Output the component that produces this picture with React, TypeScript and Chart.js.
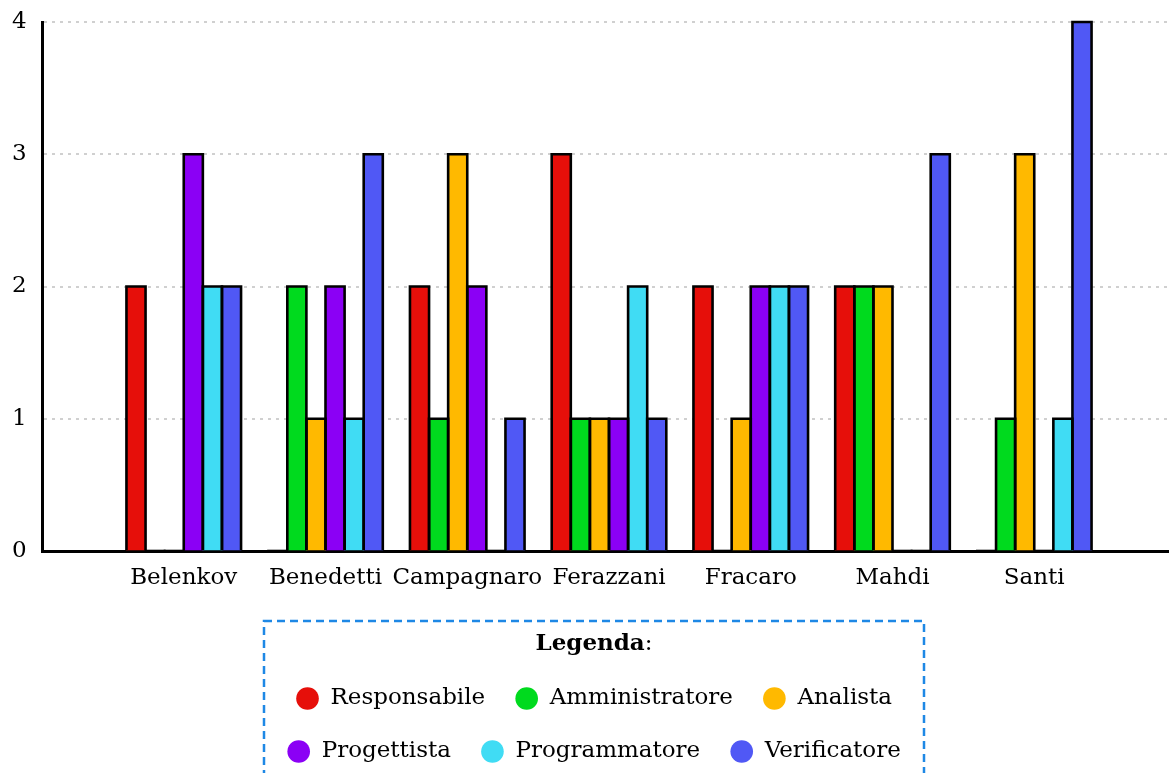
import React, { useEffect, useRef } from "react";
import { Chart, registerables } from "chart.js";

Chart.register(...registerables);

const categories = ["Belenkov", "Benedetti", "Campagnaro", "Ferazzani", "Fracaro", "Mahdi", "Santi"];
const seriesNames = ["Responsabile", "Amministratore", "Analista", "Progettista", "Programmatore", "Verificatore"];
const seriesColors = ["#e60f0a", "#00da1e", "#ffb900", "#8b00f5", "#40dcf4", "#5058f5"];

const responsabile = [2, 0, 2, 3, 2, 2, 0];
const amministratore = [0, 2, 1, 1, 0, 2, 1];
const analista = [0, 1, 3, 1, 1, 2, 3];
const progettista = [3, 2, 2, 1, 2, 0, 0];
const programmatore = [2, 1, 0, 2, 2, 0, 1];
const verificatore = [2, 3, 1, 1, 2, 3, 4];

const yTicks = [0, 1, 2, 3, 4];

const seriesValues = [responsabile, amministratore, analista, progettista, programmatore, verificatore];

const FONT = "'DejaVu Serif', serif";
const LEGEND_CENTER = 594;
const LEGEND_WIDTH = 680;
const LEGEND_BOX_WIDTH = 660;

// black outline centred on each bar edge (adjacent bars share one line)
const barOutlinePlugin = {
  id: "barOutline",
  afterDatasetsDraw(chart: any) {
    const ctx = chart.ctx;
    ctx.save();
    ctx.strokeStyle = "#000";
    ctx.lineWidth = 2.6;
    ctx.lineJoin = "miter";
    chart.data.datasets.forEach((ds: any, d: number) => {
      const meta = chart.getDatasetMeta(d);
      meta.data.forEach((el: any, i: number) => {
        if (ds.data[i] == null) return;
        if (el.skip || el.y == null || isNaN(el.y)) return;
        const left = el.x - el.width / 2;
        const h = el.base - el.y;
        ctx.beginPath();
        if (h <= 0.5) {
          ctx.moveTo(left - 1, el.base);
          ctx.lineTo(left + el.width + 1, el.base);
        } else {
          ctx.moveTo(left, el.base);
          ctx.lineTo(left, el.y);
          ctx.lineTo(left + el.width, el.y);
          ctx.lineTo(left + el.width, el.base);
        }
        ctx.stroke();
      });
    });
    ctx.restore();
  },
};

const legendBoxPlugin = {
  id: "legendBox",
  beforeLayout(chart: any) {
    const lg = chart.legend;
    if (lg && !lg.__patched) {
      const orig = lg.update.bind(lg);
      lg.update = (mw: number, mh: number, m: any) => orig(Math.min(mw, LEGEND_WIDTH), mh, m);
      lg.__patched = true;
    }
  },
  afterLayout(chart: any) {
    const lg = chart.legend;
    if (lg) {
      lg.left = LEGEND_CENTER - LEGEND_WIDTH / 2;
      lg.right = LEGEND_CENTER + LEGEND_WIDTH / 2;
      lg.width = LEGEND_WIDTH;
    }
  },
  afterDraw(chart: any) {
    const lg = chart.legend;
    if (!lg) return;
    const ctx = chart.ctx;
    const top = lg.top + 29;
    const bottom = lg.bottom + 40;
    ctx.save();
    ctx.setLineDash([8, 5]);
    ctx.lineWidth = 2.5;
    ctx.strokeStyle = "#1e88e5";
    ctx.strokeRect(LEGEND_CENTER - LEGEND_BOX_WIDTH / 2, top, LEGEND_BOX_WIDTH, bottom - top);
    ctx.setLineDash([]);
    const ty = lg.top + 41 + 11.5;
    ctx.fillStyle = "#000";
    ctx.textBaseline = "middle";
    ctx.textAlign = "left";
    const boldFont = `bold 23px ${FONT}`;
    const regFont = `23px ${FONT}`;
    ctx.font = boldFont;
    const w1 = ctx.measureText("Legenda").width;
    ctx.font = regFont;
    const w2 = ctx.measureText(":").width;
    const x0 = LEGEND_CENTER - (w1 + w2) / 2;
    ctx.font = boldFont;
    ctx.fillText("Legenda", x0, ty);
    ctx.font = regFont;
    ctx.fillText(":", x0 + w1, ty);
    ctx.restore();
  },
};

export default function App() {
  const ref = useRef<HTMLCanvasElement | null>(null);

  useEffect(() => {
    if (!ref.current) return;
    Chart.defaults.font.family = FONT;
    const labels = ["", ...categories, ""];
    const chart = new Chart(ref.current, {
      type: "bar",
      data: {
        labels,
        datasets: seriesNames.map((name, i) => ({
          label: name,
          data: [null, ...seriesValues[i], null],
          backgroundColor: seriesColors[i],
          borderColor: "#000000",
          borderWidth: 0,
          barThickness: 19.1,
        })),
      },
      options: {
        responsive: false,
        animation: false,
        layout: { padding: { top: 22, left: 12, right: 0, bottom: 0 } },
        scales: {
          x: {
            offset: false,
            grid: { display: false, drawTicks: false },
            border: { display: true, color: "#000", width: 3 },
            ticks: {
              autoSkip: false,
              maxRotation: 0,
              minRotation: 0,
              padding: 0,
              color: "#000",
              font: { family: FONT, size: 23, lineHeight: 2.33 },
            },
            afterFit: (s: any) => {
              s.height = 41;
            },
          },
          y: {
            min: 0,
            max: 4,
            afterBuildTicks: (s: any) => {
              s.ticks = yTicks.map((v) => ({ value: v }));
            },
            grid: { color: "#d0d0d0", lineWidth: 2, drawTicks: false },
            border: { display: true, color: "#000", width: 3, dash: [3, 5] },
            ticks: {
              padding: 0,
              crossAlign: "far",
              color: "#000",
              font: { family: FONT, size: 23 },
            },
            afterFit: (s: any) => {
              s.width = 30;
            },
          },
        },
        plugins: {
          tooltip: { enabled: false },
          legend: {
            display: true,
            position: "bottom",
            align: "center",
            title: {
              display: true,
              text: "Legenda:",
              color: "rgba(0,0,0,0)",
              font: { family: FONT, size: 23, weight: "bold", lineHeight: 1 },
              padding: { top: 41, bottom: 1 },
            },
            labels: {
              usePointStyle: true,
              pointStyle: "circle",
              boxHeight: 16,
              padding: 30,
              color: "#000",
              font: { family: FONT, size: 23 },
              generateLabels: (c: any) =>
                (Chart.defaults as any).plugins.legend.labels
                  .generateLabels(c)
                  .map((it: any) => ({ ...it, lineWidth: 0, strokeStyle: it.fillStyle })),
            },
          },
        },
      },
      plugins: [barOutlinePlugin, legendBoxPlugin],
    } as any);
    return () => chart.destroy();
  }, []);

  return (
    <div
      style={{
        position: "fixed",
        left: 0,
        top: 0,
        width: 1169,
        height: 773,
        overflow: "hidden",
        background: "#fff",
      }}
    >
      <canvas ref={ref} width={1176} height={773} style={{ display: "block" }} />
    </div>
  );
}
